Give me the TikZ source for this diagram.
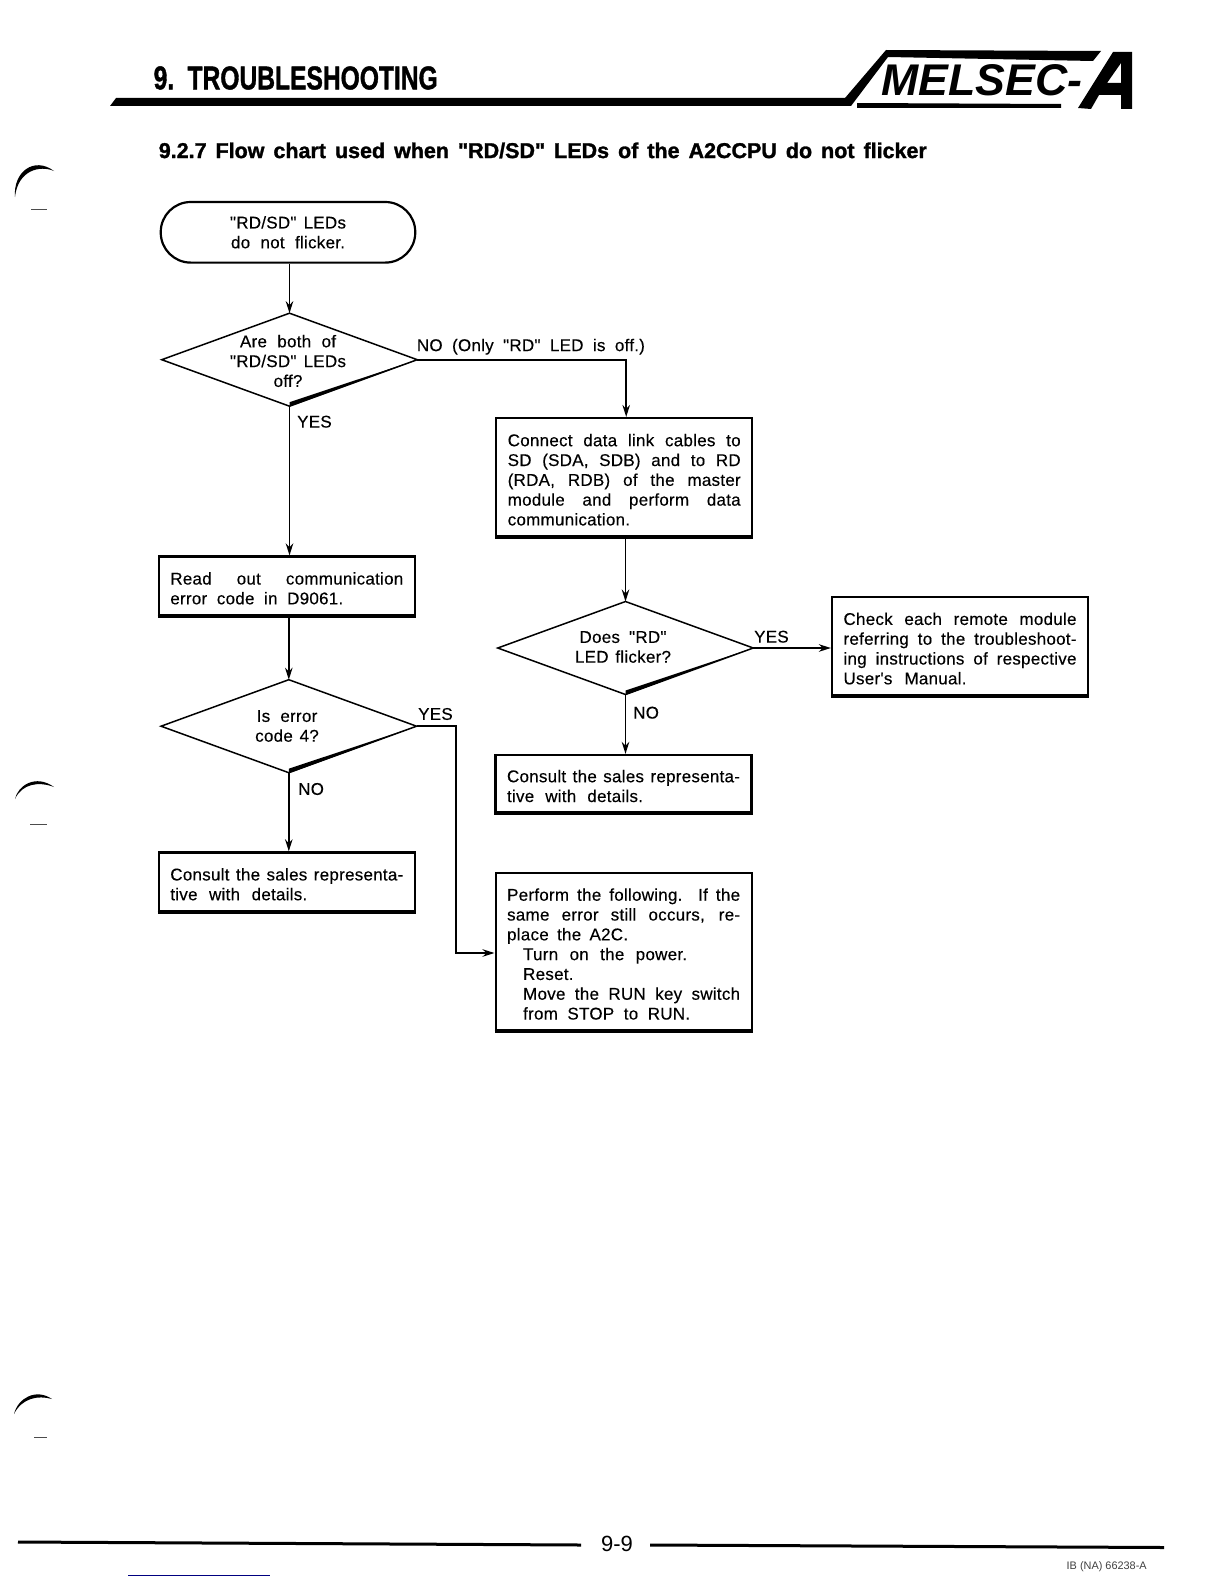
\documentclass[tikz,border=0pt]{standalone}
\usepackage{fontspec}
\usepackage{graphicx}
\setmainfont{Liberation Sans}
\newfontfamily\bodyfont[LetterSpace=1.5,FakeBold=0.3]{Liberation Sans}
\newfontfamily\heavyfont[FakeBold=1.4]{Liberation Sans Bold}
\usetikzlibrary{arrows.meta,shapes.geometric,calc}
\newcommand\jl[2]{\makebox[#1pt][s]{#2}}
\newcommand\heavybox[1]{\draw[line width=3pt,line cap=square] (#1.south west) -- (#1.south east);}
\newcommand\heavydia[1]{\fill (#1.east) -- ([yshift=4pt]#1.south) -- ([yshift=-0.5pt]#1.south) -- cycle;}
\tikzset{
  x=1pt,y=-1pt,
  bodytext/.style={font={\bodyfont\fontsize{17}{19.8}\selectfont}},
  boxnode/.style={draw,rectangle,line width=2.2pt,inner sep=0pt,minimum width=256pt,text width=233pt,align=flush left,bodytext,execute at begin node={\rule{0pt}{17.4pt}}},
  dianode/.style={draw,diamond,line width=1.5pt,inner sep=0pt,outer sep=0pt,minimum width=255.5pt,minimum height=93pt,aspect=2.75},
  diatext/.style={inner sep=0pt,align=center,bodytext},
  termnode/.style={draw,rectangle,rounded corners=30pt,line width=2.2pt,inner sep=0pt,align=center,minimum width=254.5pt,minimum height=60.6pt,bodytext},
  lbl/.style={inner sep=0pt,anchor=west,bodytext},
  conn/.style={line width=1.7pt,-{Stealth[length=12pt,width=7.5pt]}},
  ruleline/.style={line width=3pt},
}
\begin{document}
\begin{tikzpicture}
\useasboundingbox (0,0) rectangle (1224,1584);
% header
\node[anchor=west,inner sep=0pt] (chap) at (153.5,78) {\resizebox{284pt}{23pt}{\heavyfont\spaceskip=.45em 9. TROUBLESHOOTING}};
\node[anchor=west,inner sep=0pt] (sect) at (158.6,150.5) {\resizebox{768pt}{!}{\heavyfont\fontsize{20}{24}\selectfont\spaceskip=.42em 9.2.7 Flow chart used when "RD/SD" LEDs of the A2CCPU do not flicker}};
\fill (110,106) -- (116,98) -- (845,98) -- (886,50) -- (1101,51) -- (1093,61) -- (888,57) -- (851,106) -- cycle;
\fill (857,103) -- (1061,104) -- (1061,108) -- (857,108) -- cycle;
\node[anchor=south west,inner sep=0pt] (logo) at (881,96) {\resizebox{201pt}{31pt}{\bfseries\itshape MELSEC-}};
\fill[even odd rule] (1078,108) -- (1113,52) -- (1132,52) -- (1132,109) -- (1121,109) -- (1121,95) -- (1099,95) -- (1091,109) -- cycle
  (1121,63) -- (1121,83) -- (1107,83) -- cycle;
% flow nodes
\node[termnode] (start) at (288,232.3) {\jl{116}{"RD/SD" LEDs}\\\jl{114}{do not flicker.}};
\node[dianode] (d1) at (289.5,359.7) {};
\node[diatext] (d1t) at (288,361) {\jl{96}{Are both of}\\\jl{116}{"RD/SD" LEDs}\\off?};
\node[boxnode,minimum height=118.3pt] (b1) at (624.2,477.2) {\jl{233}{Connect data link cables to}\\\jl{233}{SD (SDA, SDB) and to RD}\\\jl{233}{(RDA, RDB) of the master}\\\jl{233}{module and perform data}\\\jl{128}{communication.}};
\node[boxnode,minimum height=58.6pt] (b2) at (286.8,585.8) {\jl{233}{Read out communication}\\\jl{173}{error code in D9061.}};
\node[dianode] (d2) at (625.5,648) {};
\node[diatext] (d2t) at (623,647) {\jl{87}{Does "RD"}\\\jl{96}{LED flicker?}};
\node[boxnode,minimum height=98pt] (chk) at (960,646) {\jl{233}{Check each remote module}\\\jl{233}{referring to the troubleshoot-}\\\jl{233}{ing instructions of respective}\\\jl{123}{User's Manual.}};
\node[dianode] (d3) at (288.8,726.2) {};
\node[diatext] (d3t) at (287,726) {\jl{60.6}{Is error}\\\jl{63.6}{code 4?}};
\node[boxnode,minimum height=57pt] (cs2) at (623.5,783.5) {\jl{233}{Consult the sales representa-}\\\jl{136}{tive with details.}};
\node[boxnode,minimum height=58.6pt] (cs1) at (286.8,881.7) {\jl{233}{Consult the sales representa-}\\\jl{137}{tive with details.}};
\node[boxnode,minimum height=157.6pt] (perf) at (623.6,951.5) {\jl{233}{Perform the following. If the}\\\jl{233}{same error still occurs, re-}\\\jl{121}{place the A2C.}\\\hspace*{16pt}\jl{164}{Turn on the power.}\\\hspace*{16pt}Reset.\\\hspace*{16pt}\jl{217}{Move the RUN key switch}\\\hspace*{16pt}\jl{167}{from STOP to RUN.}};
\heavybox{b1}\heavybox{b2}\heavybox{chk}\heavybox{cs2}\heavybox{cs1}\heavybox{perf}
\heavydia{d1}\heavydia{d2}\heavydia{d3}
% labels
\node[lbl] (l1) at (416.7,346.7) {\jl{228}{NO (Only "RD" LED is off.)}};
\node[lbl] (l2) at (297,421.7) {YES};
\node[lbl] (l3) at (754,636.7) {YES};
\node[lbl] (l4) at (633,712.7) {NO};
\node[lbl] (l5) at (418,714) {YES};
\node[lbl] (l6) at (298,789) {NO};
% connectors
\coordinate (bend3) at (455.7,726.2);
\draw[conn] (d1.north |- start.south) -- (d1.north);
\draw[conn] (d1.south) -- (d1.south |- b2.north);
\draw[conn] (d1.east) -| ([xshift=2pt]b1.north);
\draw[conn] (d2.north |- b1.south) -- (d2.north);
\draw[conn] (d2.east) -- (d2.east -| chk.west);
\draw[conn] (d2.south) -- (d2.south |- cs2.north);
\draw[conn] (d3.north |- b2.south) -- (d3.north);
\draw[conn] (d3.south) -- (d3.south |- cs1.north);
\draw[conn] (d3.east) -- (bend3) |- ([yshift=-1.5pt]perf.west);
% punch-hole marks
\fill (15,197) .. controls (13,172) and (34,156) .. (54,171) .. controls (40,165) and (18,170) .. cycle;
\fill[black!70] (31,208.5) rectangle (47,209.5);
\fill (15,799) .. controls (18,785) and (36,774) .. (54,787) .. controls (38,781) and (22,784) .. cycle;
\fill[black!70] (30,823.5) rectangle (47,824.5);
\fill (14,1414) .. controls (18,1398) and (36,1388) .. (52,1399) .. controls (38,1395) and (22,1398) .. cycle;
\fill[black!70] (34,1437) rectangle (47,1438);
% footer
\draw[ruleline] (18,1542) -- (581,1545);
\draw[ruleline] (650,1545) -- (1164,1547.5);
\node[inner sep=0pt] (pg) at (617,1543.5) {\fontsize{22}{24}\selectfont 9-9};
\node[anchor=west,inner sep=0pt,text=black!75] (code) at (1066.5,1566.5) {\resizebox{80pt}{!}{\fontsize{9}{10}\selectfont IB (NA) 66238-A}};
\draw[line width=1pt,blue!50!black] (128,1575) -- (270,1575);
\end{tikzpicture}
\end{document}
